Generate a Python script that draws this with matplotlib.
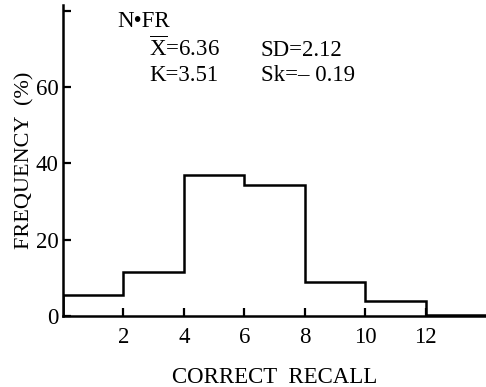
import matplotlib
matplotlib.use("Agg")
import matplotlib.pyplot as plt

# Distribucion de recuerdo correcto (N-FR)
bordes = [0, 2, 4, 6, 8, 10, 12, 14]
frecuencia = [5.4, 11.5, 37.0, 34.2, 9.0, 3.9, 0.3]
yticks = [0, 20, 40, 60, 80]
ytick_labels = ["0", "20", "40", "60", ""]
xticks = [2, 4, 6, 8, 10, 12]

plt.rcParams['font.family'] = ['Liberation Serif', 'DejaVu Serif']
plt.rcParams['mathtext.fontset'] = 'custom'
plt.rcParams['mathtext.rm'] = 'Liberation Serif'

fig = plt.figure(figsize=(4.86, 3.87), dpi=100)
ax = fig.add_axes([63/486, 1 - 316/387, 1 - 63/486, (316 - 5)/387])

ax.stairs(frecuencia, bordes, color='black', linewidth=1.8)

ax.set_xlim(0, 14)
ax.set_ylim(0, 81.5)
ax.set_xticks(xticks)
ax.set_yticks(yticks)
ax.set_yticklabels(ytick_labels)
ax.tick_params(direction='in', length=6, width=1.6, labelsize=16.5, pad=3)
ax.tick_params(axis='x', pad=8)

for s in ['top', 'right']:
    ax.spines[s].set_visible(False)
for s in ['left', 'bottom']:
    ax.spines[s].set_linewidth(1.8)

ax.set_ylabel("FREQUENCY  (%)", fontsize=16)
ax.yaxis.set_label_coords(-0.068, 0.5)
ax.set_xlabel("CORRECT  RECALL", fontsize=16.5)
ax.xaxis.set_label_coords(0.5, -0.165)

ax.text(1.8, 75.8, "N•FR", fontsize=16.5)
ax.text(2.85, 68.2, r"$\overline{\mathrm{X}}$=6.36", fontsize=16.5)
ax.text(6.55, 68.2, "SD=2.12", fontsize=16.5)
ax.text(2.85, 61.5, "K=3.51", fontsize=16.5)
ax.text(6.55, 61.5, "Sk=– 0.19", fontsize=16.5)

fig.savefig("out.png", dpi=100)
